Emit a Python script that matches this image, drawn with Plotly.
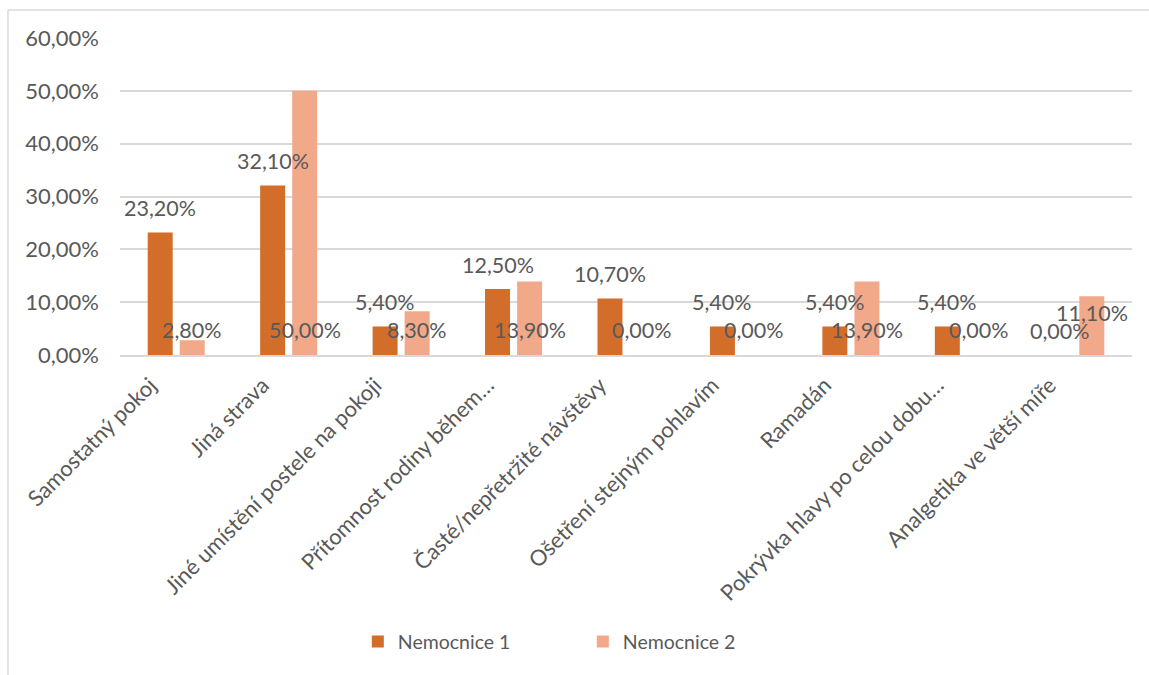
import plotly.graph_objects as go

# Požadavky pacientů – srovnání dvou nemocnic
categories = [
    "Samostatný pokoj",
    "Jiná strava",
    "Jiné umístění postele na pokoji",
    "Přítomnost rodiny během…",
    "Časté/nepřetržité návštěvy",
    "Ošetření stejným pohlavím",
    "Ramadán",
    "Pokrývka hlavy po celou dobu…",
    "Analgetika ve větší míře",
]
nemocnice_1 = [0.232, 0.321, 0.054, 0.125, 0.107, 0.054, 0.054, 0.054, 0.000]
nemocnice_2 = [0.028, 0.500, 0.083, 0.139, 0.000, 0.000, 0.139, 0.000, 0.111]
series_names = ["Nemocnice 1", "Nemocnice 2"]
y_ticks = [0.0, 0.1, 0.2, 0.3, 0.4, 0.5, 0.6]

COLOR_1 = "#D36E2A"
COLOR_2 = "#F2A98A"
TEXT = "#595959"
FONT = "Lato, 'Open Sans', sans-serif"


def cz_pct(v):
    return f"{v * 100:.2f}".replace(".", ",") + "%"


fig = go.Figure()
fig.add_trace(go.Bar(x=categories, y=nemocnice_1, name=series_names[0],
                     marker=dict(color=COLOR_1, line=dict(width=0))))
fig.add_trace(go.Bar(x=categories, y=nemocnice_2, name=series_names[1],
                     marker=dict(color=COLOR_2, line=dict(width=0))))

# Data labels: series 1 above the bar end, series 2 along the base
annotations = []
for i, v in enumerate(nemocnice_1):
    annotations.append(dict(x=i - 0.142, y=v, xref="x", yref="y", text=cz_pct(v),
                            showarrow=False, yshift=24, font=dict(size=21.5, color=TEXT, family=FONT)))
for i, v in enumerate(nemocnice_2):
    shift = 42 if i == len(categories) - 1 else 25
    annotations.append(dict(x=i + 0.142, y=0, xref="x", yref="y", text=cz_pct(v),
                            showarrow=False, yshift=shift, font=dict(size=21.5, color=TEXT, family=FONT)))

fig.update_layout(
    width=1149, height=675,
    margin=dict(l=120, r=17, t=38, b=320),
    paper_bgcolor="white", plot_bgcolor="white",
    separators=",.",
    barmode="group", bargap=0.43, bargroupgap=0.22,
    font=dict(family=FONT, color=TEXT, size=20),
    showlegend=True,
    legend=dict(orientation="h", x=0.235, xanchor="left", y=-0.905, yanchor="middle",
                font=dict(size=19.5, color=TEXT, family=FONT), itemwidth=30,
                entrywidth=180, entrywidthmode="pixels",
                traceorder="normal"),
    annotations=annotations,
    shapes=[
        dict(type="line", xref="paper", yref="paper", x0=-0.1107, x1=1.02, y0=1.0883, y1=1.0883,
             line=dict(color="#D9D9D9", width=1.5)),
        dict(type="line", xref="paper", yref="paper", x0=-0.1107, x1=-0.1107, y0=1.0883, y1=-1.02,
             line=dict(color="#D9D9D9", width=1.5)),
    ],
)
fig.update_xaxes(
    tickangle=-45, showgrid=False, showline=True, linecolor="#D9D9D9", linewidth=1.5,
    ticks="", tickfont=dict(size=22, color=TEXT, family=FONT),
    ticklabelshift=-26, ticklabelstandoff=7,
)
fig.update_yaxes(
    range=[0, 0.6], tickvals=y_ticks, tickformat=".2%",
    showgrid=True, gridcolor="#D9D9D9", gridwidth=1.5, zeroline=False,
    showline=False, ticks="", ticklabelstandoff=20,
    tickfont=dict(size=22, color=TEXT, family=FONT),
)

fig.write_html("out.html")
